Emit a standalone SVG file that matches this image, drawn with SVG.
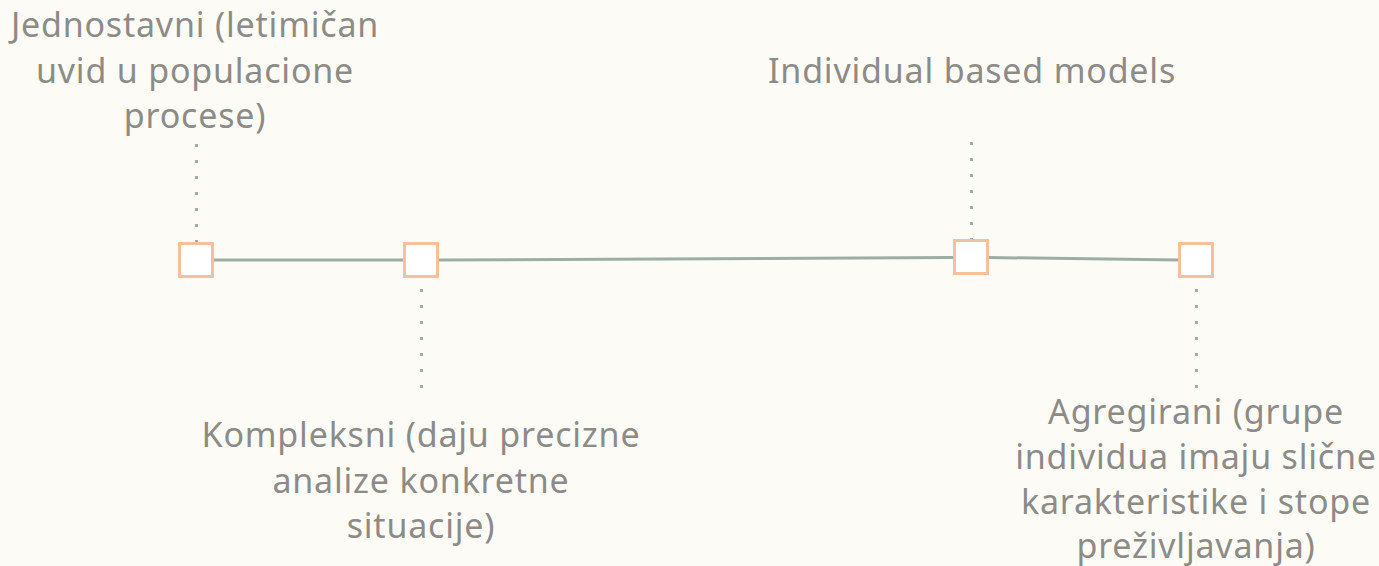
<svg xmlns="http://www.w3.org/2000/svg" width="1379" height="566" viewBox="0 0 1379 566">
<style>
.bg{fill:#fdfbf6}
.node rect{fill:#ffffff;stroke:#f5c09b;stroke-width:3}
.link{stroke:#9aaea3;stroke-width:3;fill:none}
.dot{stroke:#9aaea3;stroke-width:3;stroke-dasharray:3 13;fill:none}
text{font-family:"Noto Sans","Open Sans",sans-serif;font-size:34px;letter-spacing:0.8px;fill:#8c8b87;text-anchor:middle}
</style>
<rect class="bg" width="1379" height="566"/>
<g id="connectors">
<line class="link" x1="213" y1="260" x2="404" y2="260"/>
<line class="link" x1="438" y1="260" x2="954" y2="257.5"/>
<line class="link" x1="988" y1="257.5" x2="1179" y2="260"/>
<line class="dot" x1="196.5" y1="144" x2="196.5" y2="243"/>
<line class="dot" x1="971.5" y1="142" x2="971.5" y2="241"/>
<line class="dot" x1="421.5" y1="289" x2="421.5" y2="388"/>
<line class="dot" x1="1196.5" y1="289" x2="1196.5" y2="388"/>
</g>
<g id="n1" class="node"><rect x="179.5" y="243.5" width="33" height="33"/></g>
<g id="n2" class="node"><rect x="404.5" y="243.5" width="33" height="33"/></g>
<g id="n3" class="node"><rect x="954.5" y="240.5" width="33" height="33"/></g>
<g id="n4" class="node"><rect x="1179.5" y="243.5" width="33" height="33"/></g>
<g id="t1"><text x="195" y="37">Jednostavni (letimičan</text><text x="195" y="83">uvid u populacione</text><text x="195" y="128">procese)</text></g>
<g id="t2"><text x="972" y="83">Individual based models</text></g>
<g id="t3"><text x="421" y="447">Kompleksni (daju precizne</text><text x="421" y="493">analize konkretne</text><text x="421" y="538">situacije)</text></g>
<g id="t4"><text x="1196" y="424">Agregirani (grupe</text><text x="1196" y="469">individua imaju slične</text><text x="1196" y="514">karakteristike i stope</text><text x="1196" y="558">preživljavanja)</text></g>
</svg>
